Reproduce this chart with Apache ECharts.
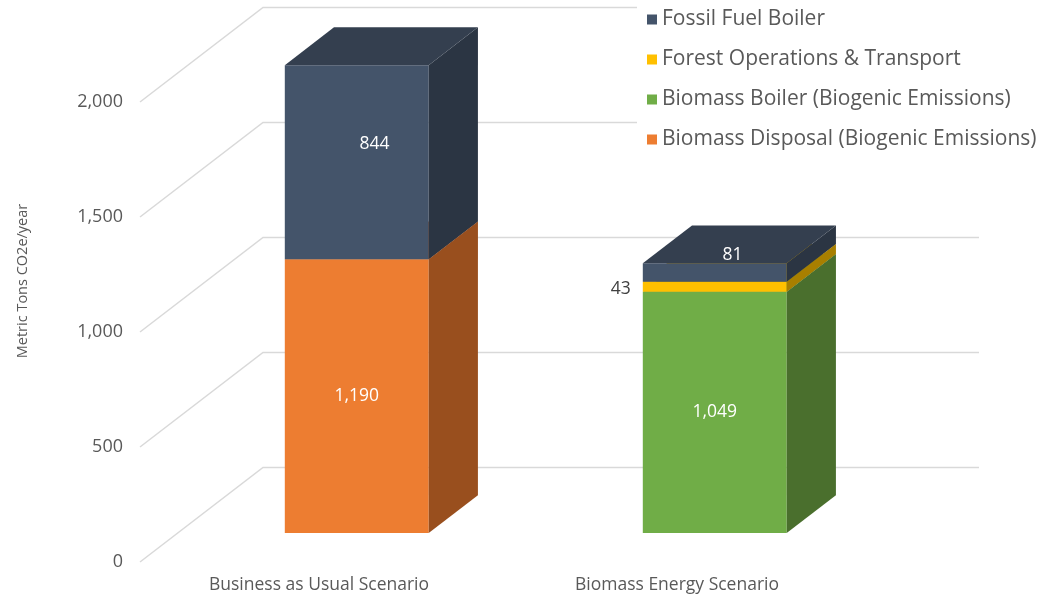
<!DOCTYPE html>
<html>
<head>
<meta charset="utf-8">
<script src="https://cdn.jsdelivr.net/npm/echarts@6/dist/echarts.min.js"></script>
<style>
html,body{margin:0;padding:0;background:#fff;}
#chart{width:1054px;height:598px;}
</style>
</head>
<body>
<div id="chart"></div>
<script>
const categories = ['Business as Usual Scenario', 'Biomass Energy Scenario'];
const yTicks = [0, 500, 1000, 1500, 2000];
const biomassDisposal = [1190, 0];
const biomassBoiler = [0, 1049];
const forestOps = [0, 43];
const fossilFuel = [844, 81];

// 3D projection style constants (pixels for full depth)
const DX = 123, DY = 94.5;
const BAR_FRONT = 0.307, BAR_DEPTH = 0.40, BAR_W = 0.402;
const FONT = "'Open Sans', 'Noto Sans', sans-serif";

const stack = [
  {name: 'Biomass Disposal (Biogenic Emissions)', values: biomassDisposal, front: '#ED7D31', side: '#994F1E', top: '#B8602A'},
  {name: 'Biomass Boiler (Biogenic Emissions)', values: biomassBoiler, front: '#70AD47', side: '#4A6F2D', top: '#5A8C38'},
  {name: 'Forest Operations & Transport', values: forestOps, front: '#FFC000', side: '#A87F00', top: '#D9A300'},
  {name: 'Fossil Fuel Boiler', values: fossilFuel, front: '#44546A', side: '#2B3543', top: '#343F4F'}
];

function topIndex(ci) {
  let t = -1;
  stack.forEach((s, i) => { if (s.values[ci]) t = i; });
  return t;
}

const barSeries = stack.map((s, si) => {
  const data = categories.map((c, ci) => {
    let base = 0;
    for (let k = 0; k < si; k++) base += stack[k].values[ci];
    return [ci, base, base + s.values[ci], s.values[ci]];
  });
  return {
    type: 'custom',
    name: s.name,
    z: 10 + si,
    itemStyle: {color: s.front},
    data: data,
    renderItem: function (params, api) {
      const ci = api.value(0), base = api.value(1), topV = api.value(2), val = api.value(3);
      if (!val) return null;
      const pb = api.coord([ci, base]);
      const pt = api.coord([ci, topV]);
      const bw = api.size([1, 0])[0] * BAR_W;
      const fx = BAR_FRONT * DX, fy = BAR_FRONT * DY;
      const x0 = pb[0] - bw / 2 + fx, x1 = x0 + bw;
      const yb = pb[1] - fy, yt = pt[1] - fy;
      const ddx = BAR_DEPTH * DX, ddy = BAR_DEPTH * DY;
      const children = [
        {type: 'rect', shape: {x: x0, y: yt, width: bw, height: yb - yt}, style: {fill: s.front}},
        {type: 'polygon', shape: {points: [[x1, yb], [x1, yt], [x1 + ddx, yt - ddy], [x1 + ddx, yb - ddy]]}, style: {fill: s.side}},
        {type: 'polygon', shape: {points: [[x0, yt], [x1, yt], [x1 + ddx, yt - ddy], [x0 + ddx, yt - ddy]]}, style: {fill: s.top}}
      ];
      const txt = val.toLocaleString('en-US');
      let lx, ly, fill = '#ffffff', align = 'center';
      const isTop = topIndex(ci) === si;
      if (isTop) {
        lx = (x0 + x1) / 2 + ddx * 0.36;
        ly = (yt + yb) / 2 - ddy * 0.47;
      } else if (yb - yt < 22) {
        lx = x0 - 12; ly = (yt + yb) / 2 + 2; fill = '#404040'; align = 'right';
      } else {
        lx = (x0 + x1) / 2; ly = (yt + yb) / 2;
      }
      children.push({type: 'text', z2: 50, style: {text: txt, x: lx, y: ly, fill: fill, align: align, verticalAlign: 'middle', fontSize: 17.5, fontFamily: FONT}});
      return {type: 'group', children: children};
    }
  };
});

const gridSeries = {
  type: 'custom',
  name: 'grid',
  silent: true,
  z: 1,
  data: yTicks.map(v => [0, v]),
  renderItem: function (params, api) {
    const p = api.coord([0, api.value(1)]);
    const cs = params.coordSys;
    return {
      type: 'polyline',
      shape: {points: [[cs.x, p[1]], [cs.x + DX, p[1] - DY], [cs.x + cs.width + DX, p[1] - DY]]},
      style: {stroke: '#D9D9D9', lineWidth: 1.5, fill: null}
    };
  }
};

const chart = echarts.init(document.getElementById('chart'));
chart.setOption({
  backgroundColor: '#ffffff',
  animation: false,
  textStyle: {fontFamily: FONT},
  grid: {left: 140, top: 102, width: 716, bottom: 36, containLabel: false},
  legend: {
    orient: 'vertical', left: 637, top: 1,
    padding: [8, 10, 8, 10], backgroundColor: '#ffffff',
    itemWidth: 10, itemHeight: 10, itemGap: 19,
    icon: 'rect',
    data: ['Fossil Fuel Boiler', 'Forest Operations & Transport', 'Biomass Boiler (Biogenic Emissions)', 'Biomass Disposal (Biogenic Emissions)'],
    textStyle: {fontSize: 21, color: '#595959', lineHeight: 21, fontFamily: FONT},
    z: 30
  },
  xAxis: {
    type: 'category', data: categories,
    axisLine: {show: false}, axisTick: {show: false},
    axisLabel: {fontSize: 17.5, color: '#595959', margin: 14, fontFamily: FONT}
  },
  yAxis: {
    type: 'value', min: 0, max: 2000, interval: 500,
    name: 'Metric Tons CO2e/year', nameLocation: 'middle', nameRotate: 90, nameGap: 110,
    nameTextStyle: {fontSize: 14.5, color: '#595959', fontFamily: FONT, padding: [0, 0, 0, 102]},
    axisLine: {show: false}, axisTick: {show: false}, splitLine: {show: false},
    axisLabel: {fontSize: 18, color: '#595959', margin: 17, fontFamily: FONT, formatter: v => v.toLocaleString('en-US')}
  },
  series: [gridSeries].concat(barSeries)
});
</script>
</body>
</html>
